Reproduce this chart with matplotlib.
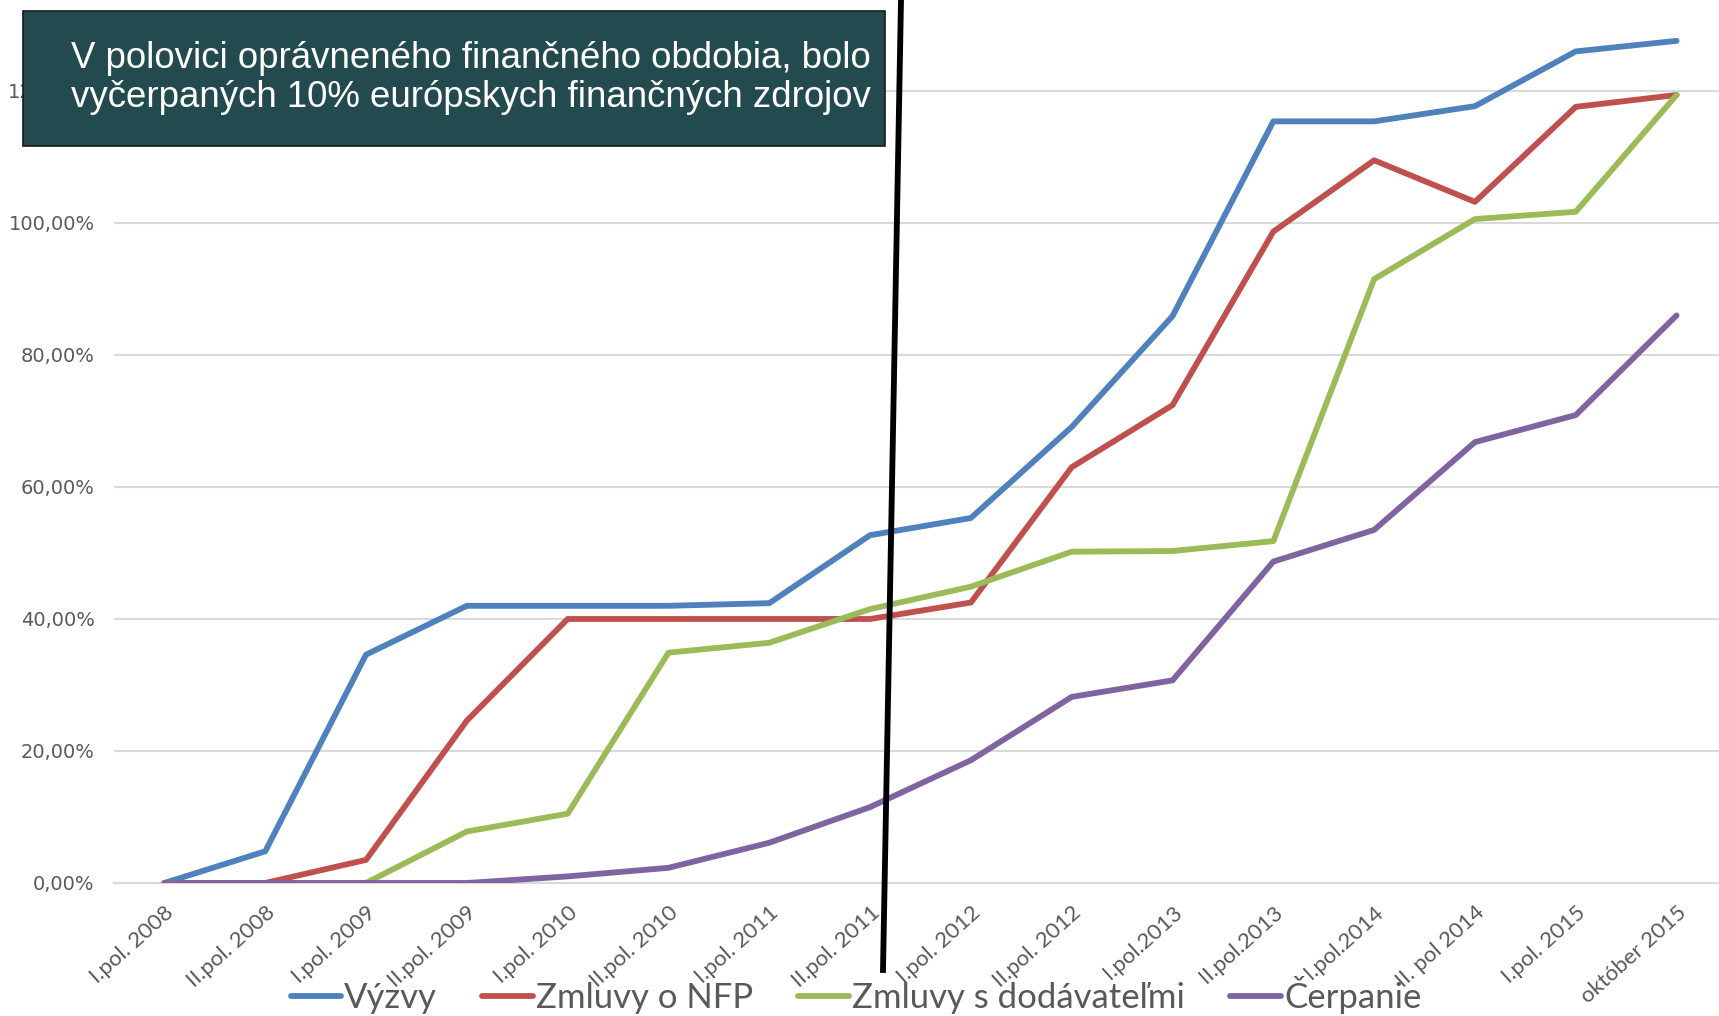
import matplotlib
matplotlib.use("Agg")
import matplotlib.pyplot as plt
from matplotlib.patches import Rectangle
from matplotlib.lines import Line2D
import numpy as np

categories = ["I.pol. 2008", "II.pol. 2008", "I.pol. 2009", "II.pol. 2009",
              "I.pol. 2010", "II.pol. 2010", "I.pol. 2011", "II.pol. 2011",
              "I.pol. 2012", "II.pol. 2012", "I.pol.2013", "II.pol.2013",
              "I.pol.2014", "II. pol 2014", "I.pol. 2015", "október 2015"]

vyzvy = [0.0, 4.8, 34.6, 42.0, 42.0, 42.0, 42.4, 52.7, 55.3, 69.1, 85.9,
         115.4, 115.4, 117.7, 126.0, 127.6]
zmluvy_nfp = [0.0, 0.0, 3.5, 24.6, 40.0, 40.0, 40.0, 40.0, 42.5, 63.0, 72.4,
              98.7, 109.5, 103.2, 117.6, 119.4]
zmluvy_dod = [0.0, 0.0, 0.0, 7.8, 10.5, 34.9, 36.4, 41.5, 44.9, 50.2, 50.3,
              51.8, 91.5, 100.6, 101.7, 119.4]
cerpanie = [0.0, 0.0, 0.0, 0.0, 1.0, 2.3, 6.1, 11.5, 18.6, 28.2, 30.7,
            48.7, 53.5, 66.8, 70.9, 86.0]

series_names = ["Výzvy", "Zmluvy o NFP", "Zmluvy s dodávateľmi", "Čerpanie"]
series_colors = ["#4F81BD", "#C0504D", "#9BBB59", "#8064A2"]
yticks = [0, 20, 40, 60, 80, 100, 120]

title_text = ("V polovici oprávneného finančného obdobia, bolo\n"
              "vyčerpaných 10% európskych finančných zdrojov")

W, H = 1719, 1016
fig = plt.figure(figsize=(W / 100, H / 100), dpi=100)

# axes: x from 114 px to 1727 px, y bottom at 883 px from top to top of figure
ax_left = 114 / W
ax_width = (1727 - 114) / W
ax_bottom = (H - 883) / H
ax = fig.add_axes([ax_left, ax_bottom, ax_width, 1 - ax_bottom])
ax.set_xlim(-0.5, len(categories) - 0.5)
ax.set_ylim(0, 883 / 6.6)

x = np.arange(len(categories))
data = [vyzvy, zmluvy_nfp, zmluvy_dod, cerpanie]
handles = []
for vals, name, col in zip(data, series_names, series_colors):
    h, = ax.plot(x, vals, color=col, lw=4.2, solid_capstyle="round",
                 solid_joinstyle="round", label=name, zorder=3)
    handles.append(h)

ax.set_yticks(yticks)
ax.set_yticklabels([f"{v:.2f}".replace(".", ",") + "%" for v in yticks],
                   fontsize=14, color="#595959", family="DejaVu Sans")
ax.yaxis.grid(True, color="#D9D9D9", lw=1.5)
ax.set_axisbelow(True)
for s in ["top", "right", "left"]:
    ax.spines[s].set_visible(False)
ax.spines["bottom"].set_color("#D9D9D9")
ax.spines["bottom"].set_linewidth(1.5)
ax.tick_params(axis="both", length=0)
ax.tick_params(axis="y", pad=14)
ax.tick_params(axis="x", pad=14)

ax.set_xticks(x)
ax.set_xticklabels(categories, rotation=42, ha="right", rotation_mode="anchor",
                   fontsize=16, color="#595959", family=["Lato", "DejaVu Sans"])
for t in ax.get_xticklabels():
    t.set_zorder(10)

leg = fig.legend(handles=handles, loc="center", bbox_to_anchor=(856 / W, 1 - 995 / H),
                 ncol=4, frameon=False, handlelength=1.45, handletextpad=0.1,
                 columnspacing=1.3,
                 prop={"family": ["Lato", "DejaVu Sans"], "size": 25})
for t in leg.get_texts():
    t.set_color("#595959")
leg.set_zorder(1)

# dark title box
box = Rectangle((23 / W, 1 - 146 / H), (885 - 23) / W, (146 - 11) / H,
                transform=fig.transFigure, facecolor="#234B4F",
                edgecolor="#1A1A1A", lw=1.2, zorder=20)
fig.add_artist(box)
txt = fig.text(71 / W, 1 - 78 / H, title_text, color="white", fontsize=26.4,
               family="Liberation Sans", va="center", ha="left",
               linespacing=1.18, zorder=21)

# black vertical annotation line
fig.add_artist(Line2D([901 / W, 883 / W], [1.0, 1 - 970 / H],
                      transform=fig.transFigure, color="black", lw=4.2,
                      zorder=25))

fig.savefig("out.png", dpi=100)
